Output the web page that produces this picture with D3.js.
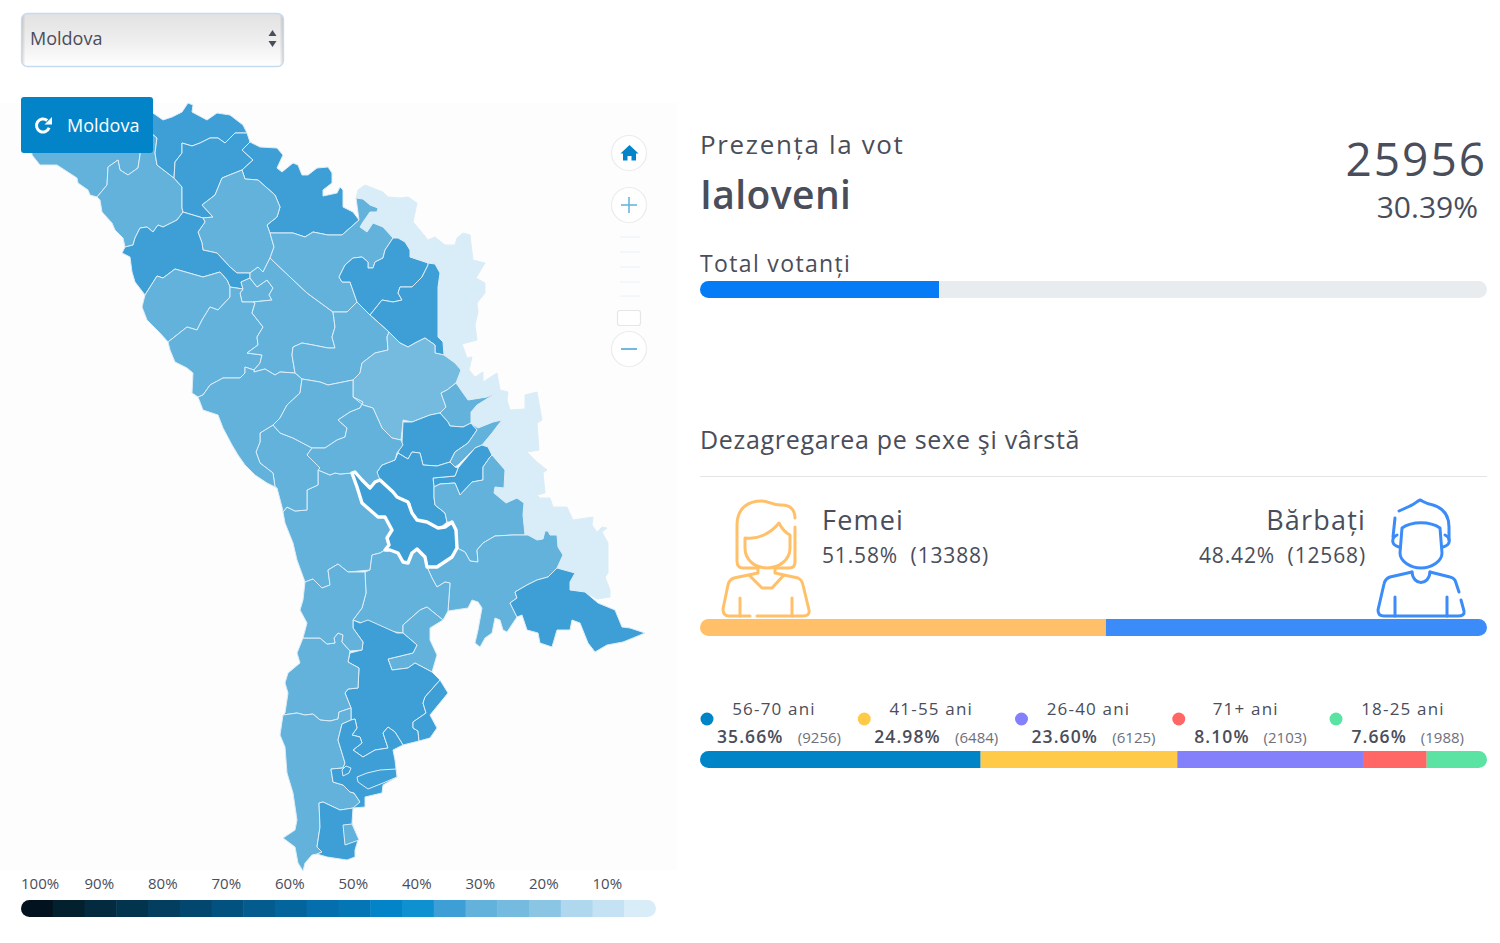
<![CDATA[<!DOCTYPE html>
<html>
<head>
<meta charset="utf-8">
<title>Prezenta la vot</title>
<script src="https://cdn.jsdelivr.net/npm/d3@7"></script>
<style>
html, body { margin: 0; padding: 0; background: #fff; overflow: hidden; }
svg { display: block; }
text { font-family: "Open Sans", sans-serif; fill: #4a4d5a; }
</style>
<script>
// raions: name, turnout %, outline read off the picture (map units)
var raionNames = ["Transnistria", "Briceni", "Edinet", "Ocnita", "Donduseni", "Soroca", "Drochia", "Glodeni", "Balti", "Falesti", "Singerei", "Floresti", "Camenca", "Soldanesti", "Rezina", "Telenesti", "Orhei", "Dubasari", "Criuleni", "Cocieri", "Varnita", "Chisinau", "Hincesti Nord", "Nisporeni", "Ungheni", "Calarasi", "Straseni", "Anenii Noi", "Causeni", "Stefan Voda", "Cimislia", "Basarabeasca", "Comrat", "Ceadir-Lunga", "Cantemir", "Leova", "Cahul", "Vulcanesti", "Giurgiulesti", "Taraclia", "Etulia", "Congaz", "Ialoveni"];
var raionTurnout = [3, 27, 27, 32, 32, 32, 27, 32, 27, 27, 27, 27, 27, 32, 32, 27, 23, 27, 32, 27, 32, 32, 27, 27, 27, 27, 27, 27, 27, 32, 27, 27, 32, 32, 27, 27, 27, 32, 27, 32, 32, 32, 30.39];
var raionOutlines = [
	[[356,198],[363,199],[370,205],[378,208],[377,212],[370,212],[363,222],[360,227],[367,232],[373,223],[383,227],[393,238],[398,238],[405,242],[410,250],[410,257],[428,263],[435,264],[440,273],[438,287],[438,337],[443,342],[444,355],[455,363],[461,370],[456,383],[468,400],[487,397],[498,392],[477,405],[471,412],[471,423],[478,428],[493,422],[502,420],[498,425],[492,433],[482,445],[488,447],[492,455],[505,470],[504,488],[495,487],[494,493],[506,503],[517,498],[524,503],[523,515],[525,535],[528,535],[537,540],[543,539],[545,531],[548,531],[550,535],[557,535],[558,547],[563,555],[557,568],[575,573],[570,582],[570,590],[585,592],[597,599],[610,597],[610,590],[605,577],[608,573],[608,543],[602,532],[607,528],[602,527],[597,532],[592,525],[593,517],[573,520],[567,507],[553,507],[550,498],[540,498],[537,495],[545,493],[543,473],[547,470],[537,462],[527,452],[539,450],[537,423],[542,420],[537,392],[525,395],[525,409],[510,410],[507,400],[508,392],[500,390],[497,373],[483,382],[483,372],[475,377],[469,370],[472,357],[467,358],[462,344],[477,340],[475,325],[478,312],[477,303],[485,293],[485,283],[476,278],[485,263],[473,260],[470,235],[463,233],[457,238],[455,245],[445,245],[435,237],[428,240],[420,230],[413,222],[417,203],[408,197],[400,198],[388,197],[383,192],[365,185],[358,190]],
	[[30,125],[32,155],[40,165],[57,165],[77,178],[78,183],[88,190],[90,195],[97,197],[107,185],[108,167],[118,160],[120,170],[128,175],[138,168],[140,155],[142,125]],
	[[97,197],[100,200],[102,212],[112,223],[115,230],[123,238],[125,247],[133,245],[135,238],[140,228],[147,227],[153,232],[158,225],[163,227],[177,220],[183,212],[182,208],[182,187],[174,178],[157,165],[155,153],[157,138],[142,125],[140,155],[138,168],[128,175],[120,170],[118,160],[108,167],[107,185]],
	[[142,110],[153,113],[163,120],[172,117],[182,112],[188,103],[193,105],[192,112],[207,120],[217,113],[230,115],[243,125],[247,133],[235,133],[225,143],[218,138],[210,138],[200,143],[192,146],[182,143],[182,153],[175,162],[174,178],[157,165],[155,153],[157,138],[142,125]],
	[[247,133],[250,142],[242,150],[253,160],[242,170],[222,178],[215,195],[202,205],[213,217],[203,218],[183,212],[182,208],[182,187],[174,178],[175,162],[182,153],[182,143],[192,146],[200,143],[210,138],[218,138],[225,143],[235,133]],
	[[250,142],[260,147],[277,148],[283,155],[277,168],[282,172],[293,163],[298,165],[302,175],[308,175],[317,168],[328,167],[332,173],[332,183],[323,190],[323,196],[337,193],[340,187],[343,190],[343,207],[353,212],[359,220],[342,235],[328,235],[313,232],[305,237],[293,233],[270,233],[267,225],[277,217],[280,207],[275,195],[258,180],[245,179],[242,170],[253,160],[242,150]],
	[[242,170],[245,179],[258,180],[275,195],[280,207],[277,217],[267,225],[270,233],[274,247],[270,258],[263,272],[258,267],[250,273],[237,273],[230,267],[217,253],[203,250],[202,243],[198,232],[205,222],[203,218],[213,217],[202,205],[215,195],[222,178]],
	[[125,247],[122,253],[130,257],[132,272],[135,282],[145,295],[157,276],[163,278],[175,269],[203,277],[220,272],[227,280],[230,287],[243,289],[241,282],[250,278],[250,273],[237,273],[230,267],[217,253],[203,250],[202,243],[198,232],[205,222],[203,218],[183,212],[177,220],[163,227],[158,225],[153,232],[147,227],[140,228],[135,238],[133,245]],
	[[241,282],[250,278],[257,287],[267,280],[273,288],[269,295],[272,300],[253,302],[242,302],[240,293],[243,289]],
	[[145,295],[157,276],[163,278],[175,269],[203,277],[220,272],[227,280],[230,287],[230,297],[218,310],[210,307],[202,320],[197,330],[187,327],[168,342],[160,333],[147,320],[142,307]],
	[[168,342],[187,327],[197,330],[202,320],[210,307],[218,310],[230,297],[230,287],[243,289],[240,293],[242,302],[253,302],[255,303],[252,313],[263,327],[257,337],[258,345],[247,353],[262,355],[260,363],[254,370],[245,367],[245,373],[240,378],[223,378],[210,385],[203,395],[198,397],[192,393],[193,373],[187,368],[175,362],[170,350]],
	[[270,258],[290,277],[307,293],[333,312],[335,327],[332,337],[335,348],[328,348],[313,345],[302,343],[293,347],[292,355],[295,373],[280,372],[275,375],[265,369],[254,372],[254,370],[260,363],[262,355],[247,353],[258,345],[257,337],[263,327],[252,313],[255,303],[253,302],[272,300],[269,295],[273,288],[267,280],[257,287],[250,278],[250,273],[258,267],[263,272]],
	[[270,233],[293,233],[305,237],[313,232],[328,235],[342,235],[359,220],[356,198],[363,199],[370,205],[378,208],[377,212],[370,212],[363,222],[360,227],[367,232],[373,223],[383,227],[393,238],[385,250],[383,258],[375,262],[373,268],[368,268],[368,262],[362,257],[353,258],[345,265],[339,277],[342,282],[350,282],[357,302],[347,312],[337,312],[333,312],[307,293],[290,277],[270,258],[274,247]],
	[[393,238],[398,238],[405,242],[410,250],[410,257],[428,263],[428,265],[422,277],[412,287],[400,287],[398,293],[402,300],[393,302],[382,300],[370,315],[357,302],[350,282],[342,282],[339,277],[345,265],[353,258],[362,257],[368,262],[368,268],[373,268],[375,262],[383,258],[385,250]],
	[[428,263],[435,264],[440,273],[438,287],[438,337],[443,342],[444,355],[435,353],[435,345],[425,338],[415,343],[408,347],[400,343],[389,332],[370,315],[382,300],[393,302],[402,300],[398,293],[400,287],[412,287],[422,277],[428,265]],
	[[357,302],[370,315],[389,332],[387,337],[388,350],[375,353],[362,363],[360,373],[353,380],[343,382],[328,385],[320,382],[302,379],[295,373],[292,355],[293,347],[302,343],[313,345],[328,348],[335,348],[332,337],[335,327],[333,312],[347,312]],
	[[389,332],[400,343],[408,347],[415,343],[425,338],[435,345],[435,353],[444,355],[455,363],[461,370],[456,383],[447,390],[441,393],[446,407],[440,413],[430,415],[412,422],[403,420],[403,422],[401,440],[392,438],[382,428],[373,408],[363,405],[353,397],[353,380],[360,373],[362,363],[375,353],[388,350],[387,337]],
	[[456,383],[468,400],[487,397],[498,392],[477,405],[471,412],[471,423],[463,427],[450,426],[448,422],[440,413],[446,407],[441,393],[447,390]],
	[[403,422],[412,422],[430,415],[440,413],[448,422],[450,426],[463,427],[471,423],[477,430],[468,443],[455,452],[450,462],[437,466],[423,465],[420,453],[412,452],[408,459],[398,453],[402,442]],
	[[471,423],[478,428],[493,422],[502,420],[498,425],[492,433],[482,445],[475,448],[458,465],[455,467],[450,462],[455,452],[468,443],[477,430]],
	[[482,445],[488,447],[492,455],[490,457],[483,467],[483,480],[472,482],[460,495],[455,483],[440,484],[434,487],[433,478],[455,476],[458,468],[475,448]],
	[[398,453],[408,459],[412,452],[420,453],[423,465],[437,466],[450,462],[455,467],[458,468],[455,476],[433,478],[434,487],[434,497],[435,505],[445,513],[447,522],[440,528],[428,523],[417,520],[412,513],[410,503],[397,497],[390,488],[377,478],[377,472],[382,465],[395,460]],
	[[352,473],[355,472],[362,480],[370,488],[375,482],[380,480],[393,492],[397,497],[408,502],[412,513],[417,520],[427,522],[438,528],[445,527],[452,522],[456,530],[457,548],[452,557],[437,567],[427,567],[425,557],[417,549],[412,553],[408,563],[403,562],[398,553],[390,550],[385,550],[380,553],[372,555],[370,570],[348,572],[338,564],[328,570],[330,585],[322,588],[313,579],[305,582],[297,560],[293,543],[285,523],[283,512],[287,507],[295,511],[307,510],[307,490],[318,485],[318,470],[330,475],[335,473],[340,474]],
	[[273,425],[280,433],[293,438],[312,448],[307,455],[320,468],[318,470],[318,485],[307,490],[307,510],[295,511],[287,507],[283,512],[282,507],[277,488],[275,487],[273,473],[260,463],[256,452],[260,442],[260,433]],
	[[198,397],[203,395],[210,385],[223,378],[240,378],[245,373],[245,367],[254,370],[254,372],[265,369],[275,375],[280,372],[295,373],[302,379],[300,393],[287,405],[280,418],[273,425],[260,433],[260,442],[256,452],[260,463],[273,473],[275,487],[267,483],[255,475],[245,465],[238,455],[232,445],[223,428],[218,415],[203,410]],
	[[302,379],[320,382],[328,385],[343,382],[353,380],[353,397],[363,402],[360,408],[350,412],[338,420],[347,428],[345,437],[337,440],[325,448],[312,448],[293,438],[280,433],[273,425],[280,418],[287,405],[300,393]],
	[[353,397],[363,405],[373,408],[382,428],[392,438],[401,440],[403,445],[397,453],[395,460],[382,465],[377,472],[380,480],[375,482],[370,488],[362,480],[355,472],[352,473],[340,474],[335,473],[330,475],[318,470],[320,468],[307,455],[312,448],[325,448],[337,440],[345,437],[347,428],[338,420],[350,412],[360,408],[363,402]],
	[[434,487],[440,484],[455,483],[460,495],[472,482],[483,480],[483,467],[490,457],[492,455],[505,470],[504,488],[495,487],[494,493],[506,503],[517,498],[524,503],[523,515],[525,535],[513,535],[495,536],[483,543],[477,550],[478,562],[470,561],[465,552],[457,548],[456,530],[452,522],[447,522],[445,513],[435,505],[434,497]],
	[[525,535],[528,535],[537,540],[543,539],[545,531],[548,531],[550,535],[557,535],[558,547],[563,555],[557,568],[548,577],[537,580],[527,585],[515,592],[517,598],[510,603],[517,617],[507,632],[503,630],[500,620],[495,618],[492,633],[485,638],[480,647],[475,643],[478,630],[482,608],[478,602],[472,600],[468,608],[448,611],[450,583],[445,582],[437,587],[432,578],[427,567],[437,567],[452,557],[457,548],[465,552],[470,561],[478,562],[477,550],[483,543],[495,536],[513,535]],
	[[557,568],[575,573],[570,582],[570,590],[585,592],[598,603],[615,610],[622,627],[630,628],[645,633],[633,638],[623,642],[607,645],[595,652],[588,643],[580,623],[572,620],[570,630],[557,630],[552,647],[540,643],[538,633],[527,630],[522,615],[517,617],[510,603],[517,598],[515,592],[527,585],[537,580],[548,577]],
	[[385,550],[390,550],[398,553],[403,562],[408,563],[412,553],[417,549],[425,557],[427,567],[432,578],[437,587],[445,582],[450,583],[448,611],[443,620],[427,607],[420,610],[403,625],[403,633],[395,632],[373,627],[353,620],[362,608],[366,593],[365,572],[370,570],[372,555],[380,553]],
	[[427,607],[443,620],[430,628],[430,640],[437,655],[432,672],[415,663],[408,668],[392,670],[388,659],[413,653],[417,645],[403,633],[403,625],[420,610]],
	[[353,620],[360,623],[368,620],[397,633],[403,633],[417,645],[413,653],[388,659],[392,670],[408,668],[415,663],[432,672],[440,680],[425,697],[423,703],[426,713],[413,722],[413,728],[418,731],[419,741],[403,745],[395,732],[388,727],[383,733],[388,748],[375,750],[363,757],[353,750],[362,743],[360,737],[352,735],[357,728],[355,719],[351,720],[351,708],[345,693],[348,689],[358,688],[359,668],[348,662],[350,653],[362,650],[363,642],[353,628]],
	[[440,680],[448,693],[430,715],[437,728],[430,738],[419,741],[418,731],[413,728],[413,722],[426,713],[423,703],[425,697]],
	[[303,638],[320,638],[327,644],[335,643],[334,638],[338,633],[343,635],[342,642],[350,651],[348,662],[359,668],[358,688],[348,689],[345,693],[351,708],[339,712],[338,719],[330,721],[320,720],[313,714],[305,715],[297,713],[283,715],[285,713],[288,693],[285,683],[288,673],[300,663],[297,653]],
	[[303,600],[305,582],[313,579],[322,588],[330,585],[328,570],[338,564],[348,572],[365,572],[366,593],[362,608],[353,620],[353,628],[363,642],[362,650],[350,651],[342,642],[343,635],[338,633],[334,638],[335,643],[327,644],[320,638],[303,638],[307,623],[300,610]],
	[[283,715],[297,713],[305,715],[313,714],[320,720],[330,721],[338,719],[339,712],[351,708],[351,720],[342,724],[338,740],[345,763],[343,768],[331,769],[333,782],[343,785],[350,792],[354,793],[360,802],[354,808],[340,810],[323,802],[319,803],[320,827],[317,847],[322,852],[317,854],[312,855],[305,863],[303,871],[298,863],[295,847],[283,838],[295,830],[297,820],[293,793],[287,773],[285,747],[280,735]],
	[[319,803],[323,802],[340,810],[353,808],[352,823],[358,840],[355,850],[355,857],[347,860],[327,857],[317,854],[322,852],[317,847],[320,827]],
	[[343,825],[352,824],[359,840],[345,845]],
	[[342,724],[351,720],[355,719],[357,728],[352,735],[360,737],[362,743],[353,750],[363,757],[375,750],[388,748],[383,733],[388,727],[395,732],[403,745],[393,750],[395,760],[397,777],[383,785],[382,793],[365,797],[365,807],[353,808],[360,802],[354,793],[350,792],[343,785],[333,782],[331,769],[343,768],[345,763],[338,740]],
	[[357,777],[367,773],[380,770],[396,769],[397,777],[383,783],[368,789],[358,782]],
	[[342,770],[346,766],[351,768],[349,773],[343,776]],
	[[352,473],[355,472],[362,480],[370,488],[375,482],[380,480],[393,492],[397,497],[408,502],[412,513],[417,520],[427,522],[438,528],[445,527],[452,522],[456,530],[457,548],[452,557],[437,567],[427,567],[425,557],[417,549],[412,553],[408,563],[403,562],[398,553],[390,550],[385,550],[389,545],[387,538],[392,530],[385,517],[378,517],[362,503],[357,487]]
];
var selectedRaion = "Ialoveni";

// turnout legend
var legendTicks = ["100%", "90%", "80%", "70%", "60%", "50%", "40%", "30%", "20%", "10%"];
var legendColors = ["#02131f", "#03202f", "#032a3f", "#03344e", "#033e5e", "#03476e", "#03517e", "#045b8d", "#04659c", "#046fac", "#0476b6", "#0484c8", "#0f90d0", "#3d9fd5", "#62b2dc", "#75bbe0", "#8ac5e4", "#afd7ee", "#c4e2f3", "#d8edf8"];

// totals
var selectOption = "Moldova";
var turnoutCount = 25956;
var turnoutShare = 30.39;

// sex split
var sexLabels = ["Femei", "Bărbați"];
var sexShares = [51.58, 48.42];
var sexCounts = [13388, 12568];
var sexColors = ["#ffc069", "#3b8bf8"];

// age split
var ageLabels = ["56-70 ani", "41-55 ani", "26-40 ani", "71+ ani", "18-25 ani"];
var ageShares = [35.66, 24.98, 23.60, 8.10, 7.66];
var ageCounts = [9256, 6484, 6125, 2103, 1988];
var ageColors = ["#0084c8", "#ffca47", "#8480fb", "#ff6666", "#5be3a3"];

function draw(){
	var svg = d3.select("#chart");
	var defs = svg.append("defs");

	function addText(x, y, str, size, opts){
		opts = opts || {};
		return svg.append("text")
			.attr("x", x)
			.attr("y", y)
			.attr("text-anchor", opts.anchor || "start")
			.style("font-size", size + "px")
			.style("font-weight", opts.weight || 400)
			.style("letter-spacing", (opts.spacing || 0) + "px")
			.style("fill", opts.fill || "#4a4d5a")
			.text(str);
	}

	// rounded bar made of segments, clipped to a pill
	function addBar(id, scale, y, height, shares, colors){
		defs.append("clipPath").attr("id", id).append("rect")
			.attr("x", scale.range()[0])
			.attr("y", y)
			.attr("width", scale.range()[1] - scale.range()[0])
			.attr("height", height)
			.attr("rx", height / 2);

		var sum = 0;
		var starts = shares.map(function(v){ var s = sum; sum += v; return s; });

		svg.append("g").attr("clip-path", "url(#" + id + ")")
			.selectAll("rect").data(shares).join("rect")
			.attr("x", function(d, i){ return scale(starts[i]); })
			.attr("y", y)
			.attr("width", function(d){ return scale(d) - scale(0); })
			.attr("height", height)
			.attr("fill", function(d, i){ return colors[i]; });
	}

	// ---- dropdown
	var selectGrad = defs.append("linearGradient").attr("id", "selectGrad")
		.attr("x1", 0).attr("y1", 0).attr("x2", 0).attr("y2", 1);
	selectGrad.append("stop").attr("offset", "0").attr("stop-color", "#e2e2e2");
	selectGrad.append("stop").attr("offset", "0.55").attr("stop-color", "#efefef");
	selectGrad.append("stop").attr("offset", "1").attr("stop-color", "#ffffff");
	var selectSide = defs.append("linearGradient").attr("id", "selectSide");
	selectSide.append("stop").attr("offset", "0").attr("stop-color", "#000").attr("stop-opacity", 0.16);
	selectSide.append("stop").attr("offset", "0.015").attr("stop-color", "#000").attr("stop-opacity", 0);
	selectSide.append("stop").attr("offset", "0.985").attr("stop-color", "#000").attr("stop-opacity", 0);
	selectSide.append("stop").attr("offset", "1").attr("stop-color", "#000").attr("stop-opacity", 0.16);

	svg.append("rect").attr("x", 21.5).attr("y", 13.5).attr("width", 262).attr("height", 53).attr("rx", 6)
		.attr("fill", "url(#selectGrad)");
	svg.append("rect").attr("x", 21.5).attr("y", 13.5).attr("width", 262).attr("height", 53).attr("rx", 6)
		.attr("fill", "url(#selectSide)").attr("stroke", "#c3dcf2").attr("stroke-width", 1.3);
	addText(30, 45, selectOption, 18);
	svg.append("path").attr("d", "M272.5 30l4 6h-8zM272.5 47l4-6h-8z").attr("fill", "#4a4d5a");

	// ---- map panel
	svg.append("rect").attr("x", 0).attr("y", 103).attr("width", 677).attr("height", 767).attr("fill", "#fdfdfd");

	var xMap = d3.scaleLinear().domain([0, 680]).range([0, 680]);
	var yMap = d3.scaleLinear().domain([100, 880]).range([100, 880]);
	var turnoutColor = d3.scaleQuantize().domain([0, 100]).range(legendColors.slice().reverse());

	var outline = d3.line()
		.x(function(d){ return xMap(d[0]); })
		.y(function(d){ return yMap(d[1]); })
		.curve(d3.curveLinearClosed);

	svg.append("g").selectAll("path").data(raionOutlines).join("path")
		.attr("d", outline)
		.attr("data-name", function(d, i){ return raionNames[i]; })
		.attr("fill", function(d, i){ return turnoutColor(raionTurnout[i]); })
		.attr("stroke", "#dcedf7")
		.attr("stroke-width", 1)
		.attr("stroke-linejoin", "round");

	svg.append("path")
		.datum(raionOutlines[raionNames.indexOf(selectedRaion)])
		.attr("d", outline)
		.attr("fill", "none")
		.attr("stroke", "#fff")
		.attr("stroke-width", 3.4)
		.attr("stroke-linejoin", "round");

	// ---- reset button
	svg.append("rect").attr("x", 21).attr("y", 97).attr("width", 132).attr("height", 56).attr("rx", 3).attr("fill", "#0484c8");
	svg.append("path")
		.attr("d", d3.arc().innerRadius(5).outerRadius(8).startAngle(1.92).endAngle(6.98)())
		.attr("transform", "translate(43,125.5)")
		.attr("fill", "#fff");
	svg.append("path").attr("d", "M52 117v7.5h-7.5z").attr("fill", "#fff");
	addText(67, 132, "Moldova", 18, {fill: "#fff"});

	// ---- zoom control
	var zoomDashes = [237, 252, 267, 282, 296];
	[153, 205, 349].forEach(function(cy){
		svg.append("circle").attr("cx", 629).attr("cy", cy).attr("r", 17.5)
			.attr("fill", "#fff").attr("stroke", "#ececec").attr("stroke-width", 1.2);
	});
	svg.append("path").attr("d", "M629.5 145l9 8.5h-2.5v7h-4.5v-4.5h-4v4.5h-4.5v-7h-2.5z").attr("fill", "#0484c8");
	svg.append("path").attr("d", "M621 205h16M629 197v16").attr("stroke", "#62b2dc").attr("stroke-width", 1.5);
	svg.append("path").attr("d", "M621 349h16").attr("stroke", "#62b2dc").attr("stroke-width", 1.8);
	svg.selectAll(".dash").data(zoomDashes).join("line")
		.attr("class", "dash")
		.attr("x1", 620).attr("x2", 640)
		.attr("y1", function(d){ return d; }).attr("y2", function(d){ return d; })
		.attr("stroke", "#e6f2fa");
	svg.append("rect").attr("x", 617.5).attr("y", 310.5).attr("width", 23).attr("height", 15).attr("rx", 2.5)
		.attr("fill", "#fff").attr("stroke", "#e6e6e6").attr("stroke-width", 1.2);

	// ---- legend
	var xLegend = d3.scaleBand().domain(d3.range(legendColors.length)).range([21, 656]);
	defs.append("clipPath").attr("id", "legendClip").append("rect")
		.attr("x", 21).attr("y", 900).attr("width", 635).attr("height", 17).attr("rx", 8.5);
	svg.append("g").attr("clip-path", "url(#legendClip)")
		.selectAll("rect").data(legendColors).join("rect")
		.attr("x", function(d, i){ return xLegend(i); })
		.attr("y", 900)
		.attr("width", xLegend.bandwidth() + 0.5)
		.attr("height", 17)
		.attr("fill", function(d){ return d; });
	svg.append("g").selectAll("text").data(legendTicks).join("text")
		.attr("x", function(d, i){ return xLegend(i * 2); })
		.attr("y", 889)
		.style("font-size", "15px")
		.text(function(d){ return d; });

	// ---- turnout
	addText(700, 154, "Prezența la vot", 26, {spacing: 1.65});
	addText(700, 209, "Ialoveni", 39, {weight: 600, spacing: 0.4});
	addText(1487, 176, turnoutCount, 46, {anchor: "end", spacing: 2, weight: 500});
	addText(1478, 218, turnoutShare.toFixed(2) + "%", 30, {anchor: "end"});
	addText(700, 272, "Total votanți", 23, {spacing: 1.35});

	var xShare = d3.scaleLinear().domain([0, 100]).range([700, 1487]);
	addBar("totalClip", xShare, 281, 17, [turnoutShare, 100 - turnoutShare], ["#057bf5", "#e9ecef"]);

	// ---- sex
	addText(700, 449, "Dezagregarea pe sexe şi vârstă", 25, {spacing: 0.7});
	svg.append("line").attr("x1", 700).attr("x2", 1487).attr("y1", 476.5).attr("y2", 476.5).attr("stroke", "#e4e4e4");

	addText(822, 530, sexLabels[0], 27, {spacing: 1.2});
	addText(822, 563, sexShares[0].toFixed(2) + "%  (" + sexCounts[0] + ")", 21, {spacing: 0.85}).attr("xml:space", "preserve");
	addText(1366, 530, sexLabels[1], 27, {anchor: "end", spacing: 1.2});
	addText(1366, 563, sexShares[1].toFixed(2) + "%  (" + sexCounts[1] + ")", 21, {anchor: "end", spacing: 0.85}).attr("xml:space", "preserve");

	var womanIcon = svg.append("g").attr("fill", "none").attr("stroke", sexColors[0]).attr("stroke-width", 3).attr("stroke-linecap", "round").attr("stroke-linejoin", "round");
	["M758 568H743Q737 568 737 561V525C737 508 748 501 762 501C768 501 773 505 780 505C790 504 795 510 795 518",
	 "M795 527V562Q795 568 789 568H775",
	 "M745 538C758 540 771 533 779 523C782 529 786 533 790 535V548C790 560 779 568 767 568C755 568 745 560 745 548Z",
	 "M758 568V573L734 578Q729 580 728 585L723 609Q723 616 729 616H750M757 616H803Q810 616 809 610L803 585Q802 580 798 578L775 573V568",
	 "M750 576L762 588H772L783 576",
	 "M740 598V616M792 598V616"].forEach(function(d){ womanIcon.append("path").attr("d", d); });

	var manIcon = svg.append("g").attr("fill", "none").attr("stroke", sexColors[1]).attr("stroke-width", 3).attr("stroke-linecap", "round").attr("stroke-linejoin", "round");
	["M1399 511L1410 506C1415 504 1417 501 1420 500C1423 501 1426 504 1433 505C1443 508 1449 515 1449 527V540",
	 "M1395 518L1393 537",
	 "M1402 528C1412 521 1430 521 1440 528L1442 553C1442 561 1432 568 1421 568C1410 568 1400 561 1400 553Z",
	 "M1397 535C1391 538 1391 545 1399 547M1445 535C1451 538 1451 545 1443 547",
	 "M1412 572C1413 586 1429 586 1430 572",
	 "M1412 572L1390 577Q1385 579 1384 584L1378 610Q1378 616 1384 616H1458Q1465 616 1464 611L1461 600M1459 592L1456 583Q1455 578 1450 577L1430 572",
	 "M1395 597V616M1447 597V616"].forEach(function(d){ manIcon.append("path").attr("d", d); });

	addBar("sexClip", xShare, 619, 17, sexShares, sexColors);

	// ---- age
	var xAge = d3.scalePoint().domain(ageLabels).range([707, 1336]);
	var age = svg.append("g").selectAll("g").data(ageLabels).join("g")
		.attr("transform", function(d){ return "translate(" + xAge(d) + ",0)"; });

	age.append("circle")
		.attr("cy", 719).attr("r", 6.5)
		.attr("fill", function(d, i){ return ageColors[i]; });
	age.append("text")
		.attr("x", 67).attr("y", 715)
		.attr("text-anchor", "middle")
		.style("font-size", "17px").style("letter-spacing", "1.2px")
		.text(function(d){ return d; });
	age.append("text")
		.attr("x", function(d, i){ return ageShares[i] < 10 ? 15.5 : 10; }).attr("y", 743)
		.style("font-size", "17.5px").style("font-weight", 600).style("letter-spacing", "1.1px")
		.text(function(d, i){ return ageShares[i].toFixed(2) + "%"; });
	age.append("text")
		.attr("x", function(d, i){ return ageShares[i] < 10 ? 128 : 134; }).attr("y", 743)
		.attr("text-anchor", "end")
		.style("font-size", "15px").style("fill", "#6d6f7a")
		.text(function(d, i){ return "(" + ageCounts[i] + ")"; });

	addBar("ageClip", xShare, 751, 17, ageShares, ageColors);
}
document.addEventListener("DOMContentLoaded", draw);
</script>
</head>
<body><svg id="chart" width="1500" height="943"></svg></body>
</html>
]]>
